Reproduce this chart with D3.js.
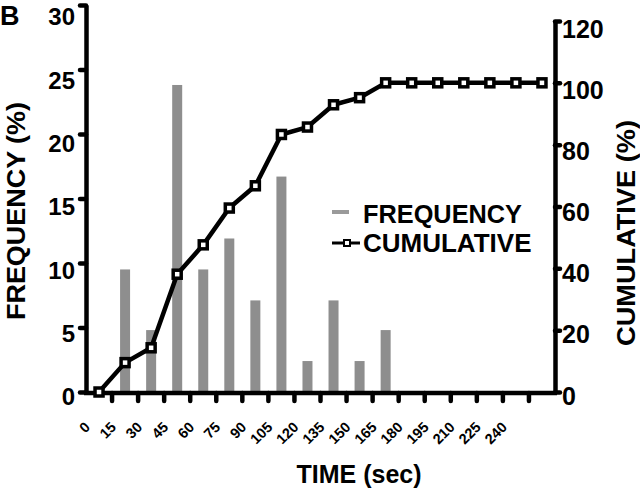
<!DOCTYPE html>
<html>
<head>
<meta charset="utf-8">
<script src="https://cdn.jsdelivr.net/npm/d3@7"></script>
<style>
  html, body { margin: 0; padding: 0; background: #fff; }
  svg { display: block; }
  text { font-family: "Liberation Sans", Arial, sans-serif; font-weight: bold; fill: #000; }
</style>
</head>
<body>
<script>
// ---- data ----
const timeBins = [0, 15, 30, 45, 60, 75, 90, 105, 120, 135, 150, 165, 180, 195, 210, 225, 240, 255];
const tickLabels = ["0", "15", "30", "45", "60", "75", "90", "105", "120", "135", "150", "165", "180", "195", "210", "225", "240"];
const frequency = [0, 9.5, 4.8, 23.8, 9.5, 11.9, 7.1, 16.7, 2.4, 7.1, 2.4, 4.8, 0, 0, 0, 0, 0, 0];
const cumulative = [0, 9.5, 14.3, 38.1, 47.6, 59.5, 66.7, 83.3, 85.7, 92.9, 95.2, 100, 100, 100, 100, 100, 100, 100];
const freqTicks = [0, 5, 10, 15, 20, 25, 30];
const cumTicks = [0, 20, 40, 60, 80, 100, 120];

const W = 640, H = 503;
const svg = d3.select("body").append("svg").attr("width", W).attr("height", H);

const x = d3.scaleBand().domain(timeBins).range([86, 555]).padding(0);
const yL = d3.scaleLinear().domain([0, 30]).range([392, 5]);
const yR = d3.scaleLinear().domain([0, 120]).range([392, 21]);

const data = timeBins.map((t, i) => ({ t, f: frequency[i], c: cumulative[i] }));

function fitText(sel, w) {
  sel.each(function () {
    const len = this.getComputedTextLength();
    if (len > 0 && Math.abs(len - w) > 2) {
      d3.select(this).attr("textLength", w).attr("lengthAdjust", "spacingAndGlyphs");
    }
  });
  return sel;
}

// bars
svg.append("g").selectAll("rect").data(data.filter(d => d.f > 0)).join("rect")
  .attr("x", d => x(d.t) + x.bandwidth() / 2 - 5)
  .attr("width", 10)
  .attr("y", d => yL(d.f))
  .attr("height", d => yL(0) - yL(d.f))
  .attr("fill", "#8e8e8e");

// x axis ticks (at band boundaries)
const xTicks = svg.append("g")
  .attr("transform", `translate(${-x.bandwidth() / 2},393)`)
  .call(d3.axisBottom(x).tickValues(timeBins.slice(1)).tickSize(8).tickSizeOuter(0).tickFormat(""));
xTicks.select(".domain").remove();
xTicks.selectAll(".tick line").attr("stroke", "#000").attr("stroke-width", 4.5).attr("stroke-linecap", "round");

// x tick labels
const xLab = svg.append("g")
  .attr("transform", `translate(${-x.bandwidth() / 2},392)`)
  .call(d3.axisBottom(x).tickValues(timeBins.slice(0, tickLabels.length)).tickSize(0)
    .tickFormat((d, i) => tickLabels[i]));
xLab.select(".domain").remove();
xLab.selectAll(".tick text")
  .attr("y", 0).attr("dy", 0)
  .attr("text-anchor", "end")
  .attr("font-size", 14.5)
  .attr("transform", "translate(5,36) rotate(-45)");

// x axis line
svg.append("line").attr("x1", 84).attr("x2", 557).attr("y1", 393).attr("y2", 393)
  .attr("stroke", "#000").attr("stroke-width", 4.5);

// left axis
const gL = svg.append("g").attr("transform", "translate(86,0)")
  .call(d3.axisLeft(yL).tickValues(freqTicks).tickSize(6).tickSizeOuter(0));
gL.select(".domain").attr("stroke-width", 4.5);
gL.selectAll(".tick line").attr("stroke-width", 4.5).attr("stroke-linecap", "round");
gL.selectAll(".tick text").attr("font-size", 24).attr("x", -11)
  .attr("transform", d => `translate(0,${5 + d / 30 * 7})`);

// right axis
const gR = svg.append("g").attr("transform", "translate(555,0)")
  .call(d3.axisRight(yR).tickValues(cumTicks).tickSize(5).tickSizeOuter(0));
gR.select(".domain").attr("stroke-width", 4.5);
gR.selectAll(".tick line").attr("stroke-width", 4.5).attr("stroke-linecap", "round");
gR.selectAll(".tick text").attr("font-size", 25).attr("x", 7)
  .attr("transform", d => `translate(0,${4 + d / 120 * 4})`);

// cumulative line
const line = d3.line().x(d => x(d.t) + x.bandwidth() / 2).y(d => yR(d.c));
svg.append("path").datum(data).attr("d", line)
  .attr("fill", "none").attr("stroke", "#000").attr("stroke-width", 4.5).attr("stroke-linejoin", "round");

svg.append("g").selectAll("rect").data(data).join("rect")
  .attr("x", d => x(d.t) + x.bandwidth() / 2 - 4)
  .attr("y", d => yR(d.c) - 4)
  .attr("width", 8).attr("height", 8)
  .attr("fill", "#fff").attr("stroke", "#000").attr("stroke-width", 3.5);

// axis titles
fitText(svg.append("text").attr("transform", "translate(25,211) rotate(-90)")
  .attr("text-anchor", "middle").attr("font-size", 26).text("FREQUENCY (%)"), 218);
fitText(svg.append("text").attr("transform", "translate(635,233) rotate(-90)")
  .attr("text-anchor", "middle").attr("font-size", 26).text("CUMULATIVE (%)"), 226);
fitText(svg.append("text").attr("x", 359).attr("y", 483)
  .attr("text-anchor", "middle").attr("font-size", 25).text("TIME (sec)"), 127);

// panel label
svg.append("text").attr("x", 0).attr("y", 25).attr("font-size", 27).text("B");

// legend
const leg = svg.append("g");
leg.append("rect").attr("x", 332).attr("y", 210).attr("width", 17).attr("height", 4).attr("fill", "#9a9a9a");
fitText(leg.append("text").attr("x", 363).attr("y", 223).attr("font-size", 26).text("FREQUENCY"), 159);
leg.append("line").attr("x1", 332).attr("x2", 360).attr("y1", 243).attr("y2", 243)
  .attr("stroke", "#000").attr("stroke-width", 3);
leg.append("rect").attr("x", 344).attr("y", 240).attr("width", 6).attr("height", 6)
  .attr("fill", "#fff").attr("stroke", "#000").attr("stroke-width", 2);
fitText(leg.append("text").attr("x", 363).attr("y", 252).attr("font-size", 26).text("CUMULATIVE"), 167);
</script>
</body>
</html>
